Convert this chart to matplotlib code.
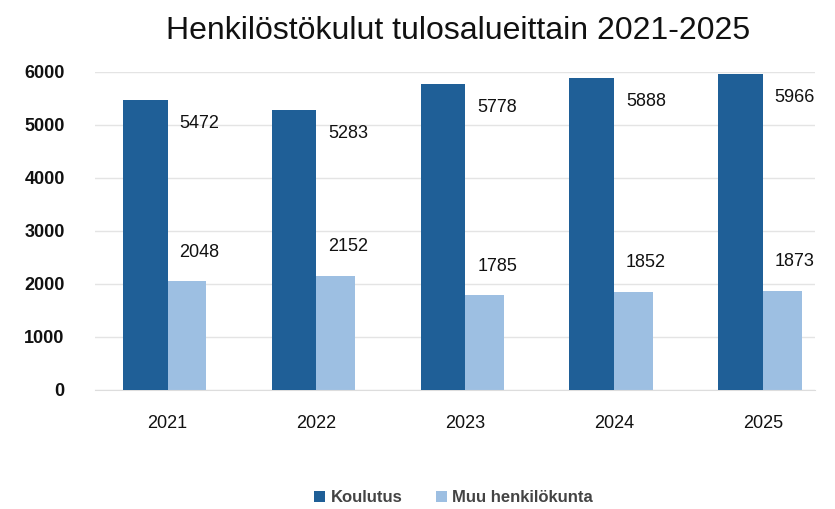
import numpy as np
import matplotlib
matplotlib.use('Agg')
from matplotlib import pyplot as plt

years = ['2021', '2022', '2023', '2024', '2025']
koulutus = [5472, 5283, 5778, 5888, 5966]
muu = [2048, 2152, 1785, 1852, 1873]

dark = '#1f5f97'
light = '#9dbfe2'

plt.rcParams['font.family'] = ['Liberation Sans', 'DejaVu Sans']

fig = plt.figure(figsize=(8.35, 5.09), dpi=100)
ax = fig.add_axes([0.114, 0.234, 0.862, 0.625])

x = np.arange(len(years))
ax.bar(x - 0.15, koulutus, width=0.3, color=dark, zorder=3, label='Koulutus')
ax.bar(x + 0.13, muu, width=0.26, color=light, zorder=2, label='Muu henkilökunta')

# value labels
for i in range(len(years)):
    ax.text(x[i] + 0.08, koulutus[i] - 450, str(koulutus[i]), fontsize=13,
            ha='left', va='center', color='#111111', zorder=4)
    ax.text(x[i] + 0.08, muu[i] + 550, str(muu[i]), fontsize=13,
            ha='left', va='center', color='#111111', zorder=4)

ax.set_xlim(-0.487, 4.35)
ax.set_ylim(0, 6000)
ax.set_yticks(range(0, 6001, 1000))
ax.set_xticks(x)
ax.set_xticklabels(years)
ax.tick_params(axis='both', length=0, labelsize=13, colors='#111111')
ax.tick_params(axis='x', pad=18)
ax.tick_params(axis='y', pad=22)
for lab in ax.get_yticklabels():
    lab.set_fontweight('bold')

ax.grid(axis='y', color='#e4e4e4', linewidth=1, zorder=0)
for s in ['top', 'right', 'left']:
    ax.spines[s].set_visible(False)
ax.spines['bottom'].set_color('#dddddd')

fig.text(0.548, 0.94, 'Henkilöstökulut tulosalueittain 2021-2025',
         ha='center', va='center', fontsize=23, color='#111111')

fig.legend(loc='center', bbox_to_anchor=(0.543, 0.022), ncol=2, frameon=False,
           prop={'size': 12, 'weight': 'bold'}, handlelength=0.7, handleheight=0.7,
           columnspacing=2.0, handletextpad=0.3, labelcolor='#444444')

fig.savefig('out.png', dpi=100)
